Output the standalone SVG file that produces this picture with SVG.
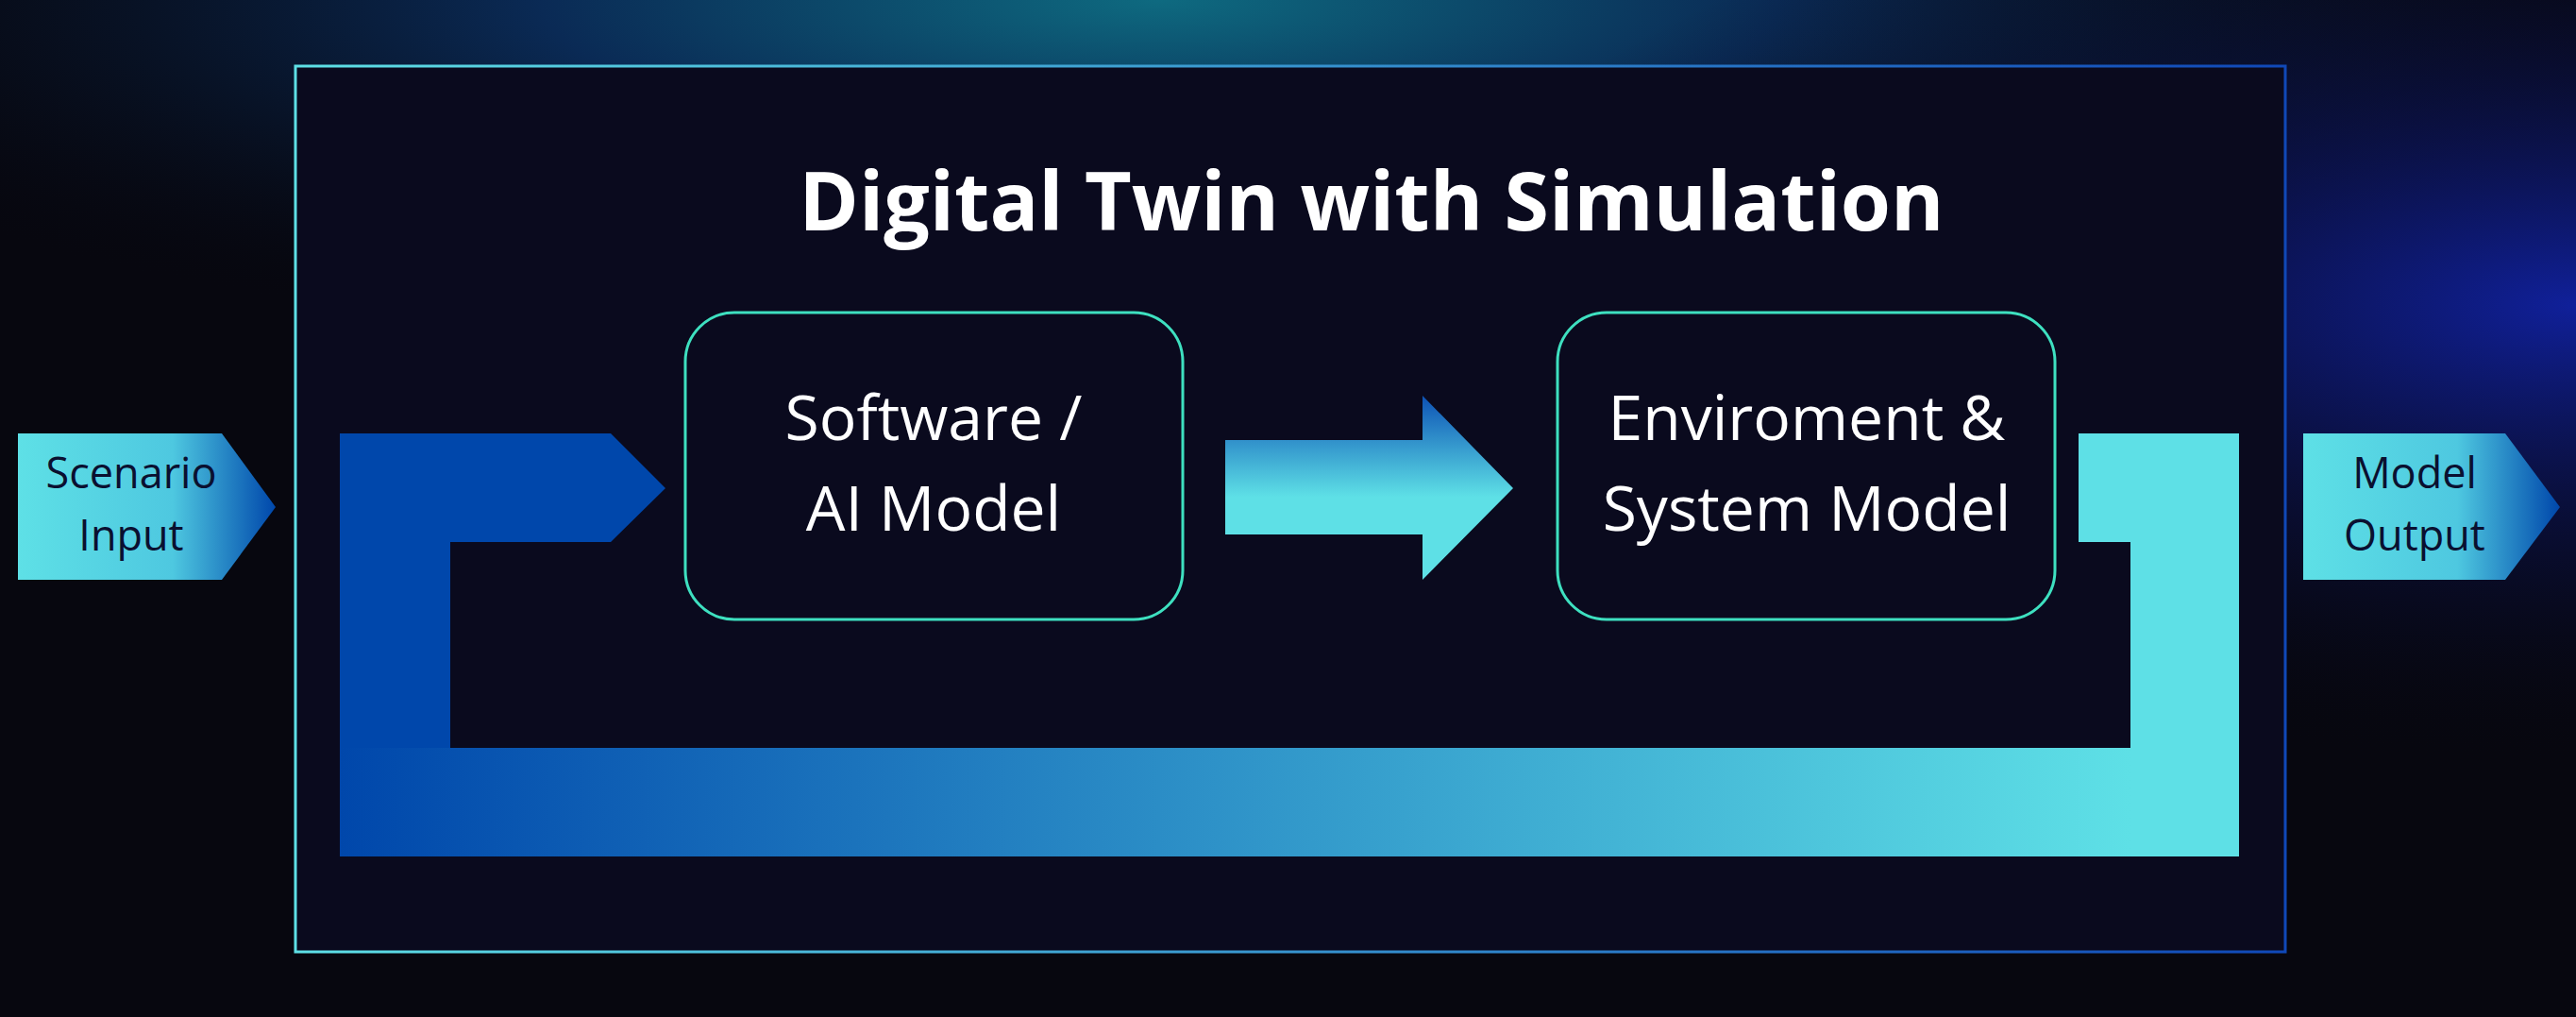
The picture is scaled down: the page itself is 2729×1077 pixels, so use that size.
<svg xmlns="http://www.w3.org/2000/svg" width="2729" height="1077" viewBox="0 0 2729 1077">
<defs>
<radialGradient id="bg1" cx="0.45" cy="0" r="0.6" gradientTransform="scale(1,0.6)">
<stop offset="0" stop-color="#0e6a80"/><stop offset="0.4" stop-color="#0a2a55"/><stop offset="1" stop-color="#07070f" stop-opacity="0"/>
</radialGradient>
<radialGradient id="bg2" cx="1" cy="0.3" r="0.45">
<stop offset="0" stop-color="#10209a"/><stop offset="1" stop-color="#07070f" stop-opacity="0"/>
</radialGradient>
<linearGradient id="frame" x1="0" x2="1" y1="0" y2="0"><stop offset="0" stop-color="#5ee0e6"/><stop offset="1" stop-color="#1048b8"/></linearGradient>
<linearGradient id="h" gradientUnits="userSpaceOnUse" x1="360" x2="2257" y1="0" y2="0"><stop offset="0" stop-color="#0047ab"/><stop offset="1" stop-color="#5ee0e6"/></linearGradient>
<linearGradient id="hc" x1="0" x2="1" y1="0" y2="0"><stop offset="0" stop-color="#5ee0e6"/><stop offset="0.6" stop-color="#4ec8e0"/><stop offset="1" stop-color="#0047ab"/></linearGradient>
<linearGradient id="v" x1="0" x2="0" y1="0" y2="1"><stop offset="0" stop-color="#0d52b5"/><stop offset="0.55" stop-color="#5ee0e6"/><stop offset="1" stop-color="#5ee0e6"/></linearGradient>
<style>
.node{fill:#0a0a1e;stroke:#3ee0c0;stroke-width:3}
.t{font-family:"Open Sans","Noto Sans",sans-serif;fill:#fff;text-anchor:middle;font-size:66px}
.s{font-family:"Open Sans","Noto Sans",sans-serif;fill:#0a1030;text-anchor:middle;font-size:45px}
</style>
</defs>
<rect width="2729" height="1077" fill="#07070f"/>
<rect width="2729" height="1077" fill="url(#bg1)"/>
<rect width="2729" height="1077" fill="url(#bg2)"/>
<rect x="313" y="70" width="2108" height="938" fill="#0a0a1e" stroke="url(#frame)" stroke-width="3"/>
<text x="1453" y="244" class="t" style="font-weight:bold;font-size:86px">Digital Twin with Simulation</text>
<g id="connectors">
<path d="M360 459 H647 L705 517 L647 574 H477 V792 H360 Z" fill="#0047ab"/>
<rect x="360" y="792" width="1898" height="115" fill="url(#h)"/>
<path d="M2202 459 H2372 V907 H2257 V574 H2202 Z" fill="#5ee0e6"/>
<path d="M1298 466 H1507 V419 L1603 517 L1507 614 V566 H1298 Z" fill="url(#v)"/>
</g>
<g id="software">
<rect x="726" y="331" width="527" height="325" rx="52" class="node"/>
<text x="989" y="466" class="t">Software /</text>
<text x="989" y="562" class="t">AI Model</text>
</g>
<g id="environment">
<rect x="1650" y="331" width="527" height="325" rx="52" class="node"/>
<text x="1914" y="466" class="t">Enviroment &amp;</text>
<text x="1914" y="562" class="t">System Model</text>
</g>
<g id="scenario">
<path d="M19 459 H235 L292 537 L235 614 H19 Z" fill="url(#hc)"/>
<text x="139" y="517" class="s">Scenario</text>
<text x="139" y="583" class="s">Input</text>
</g>
<g id="output">
<path d="M2440 459 H2654 L2712 537 L2654 614 H2440 Z" fill="url(#hc)"/>
<text x="2558" y="517" class="s">Model</text>
<text x="2558" y="583" class="s">Output</text>
</g>
</svg>
